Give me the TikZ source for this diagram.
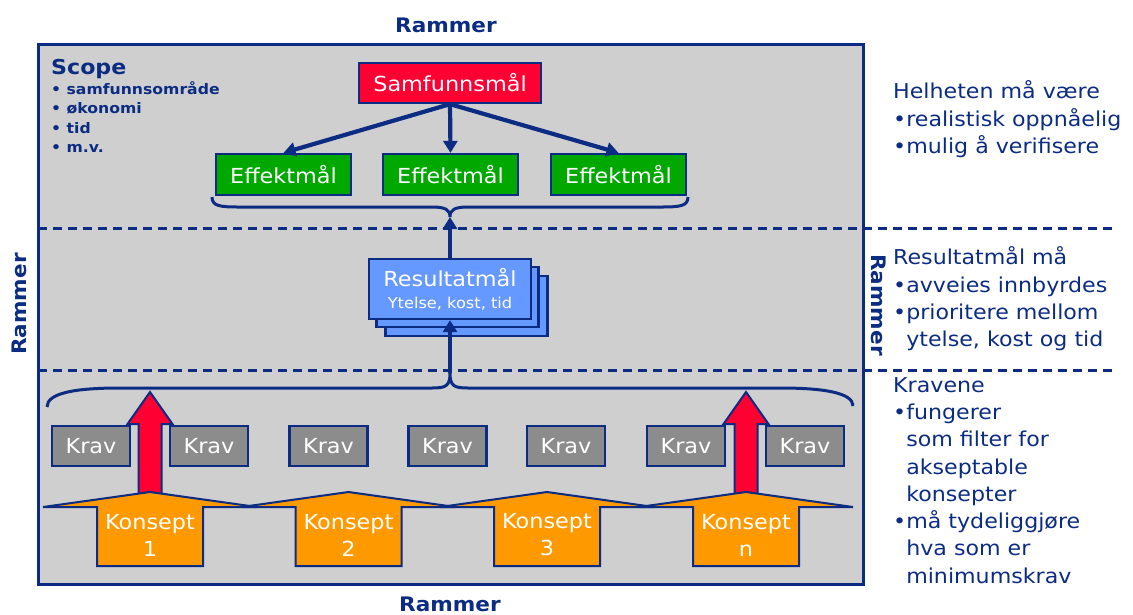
\documentclass[tikz,border=0pt]{standalone}
\usepackage{fontspec}
\setmainfont{DejaVu Sans}[FakeStretch=1.08]
\usetikzlibrary{arrows.meta}
\definecolor{navy}{HTML}{0B2C82}
\definecolor{panel}{HTML}{CFCFCF}
\definecolor{samred}{HTML}{FF0033}
\definecolor{effgreen}{HTML}{00A800}
\definecolor{resblue}{HTML}{6699FF}
\definecolor{kravgray}{HTML}{8C8C8C}
\definecolor{konorange}{HTML}{FF9900}
\tikzset{
  box/.style={draw=navy, line width=2.3pt, text=white, inner sep=0pt, minimum height=40pt,
    font=\fontsize{20.7}{24}\selectfont},
  sambox/.style={box, fill=samred, minimum width=182pt},
  effbox/.style={box, fill=effgreen, minimum width=135pt, minimum height=41pt},
  kravbox/.style={box, fill=kravgray, minimum width=78pt},
  resbox/.style={box, fill=resblue, minimum width=162pt, minimum height=60pt, align=center},
  link/.style={draw=navy, line width=4.2pt, -{Triangle[width=14pt,length=12pt]}},
  sep/.style={draw=navy, line width=3pt, dash pattern=on 9pt off 6pt},
  bracket/.style={draw=navy, line width=3pt},
  rammer/.style={text=navy, inner sep=0pt, font=\bfseries\fontsize{20}{22}\selectfont},
  side/.style={text=navy, inner sep=0pt, anchor=north west, align=left,
    font=\fontsize{20.5}{27.3}\selectfont},
  redarrow/.style={fill=samred, draw=navy, line width=2pt},
  konsept/.style={fill=konorange, draw=navy, line width=2pt},
  konlabel/.style={text=white, align=center, inner sep=0pt, font=\fontsize{20.7}{27}\selectfont}
}
\begin{document}
\begin{tikzpicture}[x=1pt,y=-1pt]
\useasboundingbox (0,0) rectangle (1133,614);

% frame
\node[draw=navy, fill=panel, line width=3pt, minimum width=825pt, minimum height=540pt, inner sep=0pt] (frame) at (450.5,314) {};
\draw[sep] (38,228) -- (1113,228);
\draw[sep] (38,370) -- (1113,370);

% Rammer labels
\node[rammer] (rtop) at (446,25) {Rammer};
\node[rammer] (rbot) at (450,604) {Rammer};
\node[rammer, rotate=90] (rleft) at (19,304) {Rammer};
\node[rammer, rotate=-90] (rright) at (879,305) {Rammer};

% Scope
\node[text=navy, anchor=west, inner sep=0pt, font=\bfseries\fontsize{20.5}{22}\selectfont] (scope) at (51,69) {Scope};
\node[text=navy, anchor=north west, inner sep=0pt, align=left, font=\bfseries\fontsize{14.5}{19.6}\selectfont] (scopelist) at (51,81)
  {• samfunnsområde\\• økonomi\\• tid\\• m.v.};

% top level
\node[sambox] (sam) at (450,83) {Samfunnsmål};
\node[effbox] (e1) at (283.5,174.5) {Effektmål};
\node[effbox] (e2) at (450.5,174.5) {Effektmål};
\node[effbox] (e3) at (618.5,174.5) {Effektmål};
\draw[link] (sam.south) -- (e1.north);
\draw[link] (sam.south) -- (e2.north);
\draw[link] (sam.south) -- (e3.north);

% top brace
\coordinate (tb) at (450,217);
\draw[bracket] (212,197) .. controls (212,206) and (220,207) .. (238,207) -- (432,207)
  .. controls (446,207) and (450,210) .. (tb)
  .. controls (450,210) and (454,207) .. (468,207) -- (662,207)
  .. controls (680,207) and (688,206) .. (688,197);

% Resultatmål stack
\node[resbox] (r3) at (466.5,306) {};
\node[resbox] (r2) at (457.5,297) {};
\node[resbox] (r1) at (450,289) {Resultatmål\\[-2pt]{\fontsize{15}{17}\selectfont Ytelse, kost, tid}};
\draw[link] (r1.north) -- (tb);

% bottom brace
\coordinate (bb) at (450,373);
\draw[bracket] (47,407) .. controls (47,393) and (75,388) .. (120,388) -- (432,388)
  .. controls (446,388) and (450,386) .. (bb)
  .. controls (450,386) and (454,388) .. (468,388) -- (780,388)
  .. controls (825,388) and (853,393) .. (853,406);
\draw[link] (bb) -- (r1.south);

% Krav
\foreach \x [count=\i] in {91,209,328.5,447.5,566,686,805}
  \node[kravbox] (krav\i) at (\x,446) {Krav};

% red arrows
\foreach \c in {150,746}
  \draw[redarrow] ({\c-11.5},495) -- ({\c-11.5},424) -- ({\c-22.5},424) -- (\c,392)
    -- ({\c+22.5},424) -- ({\c+11.5},424) -- ({\c+11.5},495) -- cycle;

% Konsepts
\foreach \c/\lab [count=\i] in {150/1,348.5/2,547/3,746/n} {
  \draw[konsept] ({\c-107},507) -- (\c,492) -- ({\c+107},507) -- ({\c+53},507)
    -- ({\c+53},566) -- ({\c-53},566) -- ({\c-53},507) -- cycle;
  \node[konlabel] (kon\i) at (\c,535) {Konsept\\\lab};
}

% right side text
\node[side] (t1) at (893,80.5) {Helheten må være\\•realistisk oppnåelig\\•mulig å verifisere};
\node[side] (t2) at (893,246.5) {Resultatmål må\\•avveies innbyrdes\\•prioritere mellom\\\phantom{•}ytelse, kost og tid};
\node[side] (t3) at (893,377) {Kravene\\•fungerer\\\phantom{•}som filter for\\\phantom{•}akseptable\\\phantom{•}konsepter\\•må tydeliggjøre\\\phantom{•}hva som er\\\phantom{•}minimumskrav};
\end{tikzpicture}
\end{document}
